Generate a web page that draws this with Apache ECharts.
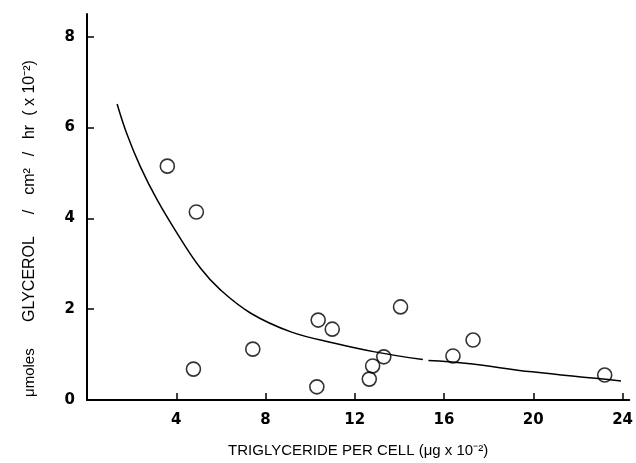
<!DOCTYPE html>
<html>
<head>
<meta charset="utf-8">
<script src="https://cdn.jsdelivr.net/npm/echarts@6/dist/echarts.min.js"></script>
<style>html,body{margin:0;padding:0;background:#fff;}#c{width:636px;height:463px;}</style>
</head>
<body>
<div id="c"></div>
<script>
// Observed data points (triglyceride per cell, glycerol release)
const pointsX = [3.6, 4.9, 4.77, 7.43, 10.36, 10.99, 10.3, 14.05, 12.8, 12.65, 13.3, 16.4, 17.3, 23.2];
const pointsY = [5.15, 4.14, 0.68, 1.12, 1.76, 1.56, 0.29, 2.05, 0.75, 0.46, 0.95, 0.97, 1.32, 0.55];
// Fitted curve (null = small break in drawn line)
const curveX = [1.35, 1.78, 2.39, 3.14, 4.04, 5.09, 5.99, 7.34, 9.14, 11.1, 12.9, 15.05, null, 15.3, 16.95, 19.95, 23.93];
const curveY = [6.52, 5.87, 5.14, 4.41, 3.67, 2.90, 2.42, 1.91, 1.50, 1.25, 1.06, 0.89, null, 0.87, 0.81, 0.62, 0.42];
const xTicks = [4, 8, 12, 16, 20, 24];
const yTicks = [0, 2, 4, 6, 8];

const scatterData = pointsX.map((x, i) => [x, pointsY[i]]);
const curveData = curveX.map((x, i) => x === null ? [null, null] : [x, curveY[i]]);

const font = 'Liberation Sans, Arial, sans-serif';
const tickFont = 'DejaVu Sans, Verdana, sans-serif';
const chart = echarts.init(document.getElementById('c'), null, {renderer: 'canvas'});
chart.setOption({
  animation: false,
  backgroundColor: '#fff',
  grid: {left: 87, right: 6, top: 14, bottom: 63, containLabel: false},
  xAxis: {
    type: 'value', min: 0, max: 24.3,
    splitLine: {show: false},
    axisLine: {lineStyle: {color: '#000', width: 2}},
    axisTick: {inside: true, length: 7, customValues: xTicks, lineStyle: {color: '#000', width: 1.5}},
    axisLabel: {customValues: xTicks, color: '#000', fontSize: 15, fontWeight: 'bold', fontFamily: tickFont, margin: 13},
    name: 'TRIGLYCERIDE PER CELL (μg x 10⁻²)',
    nameLocation: 'middle', nameGap: 43,
    nameTextStyle: {color: '#000', fontSize: 15, fontFamily: font}
  },
  yAxis: {
    type: 'value', min: 0, max: 8.5,
    splitLine: {show: false},
    axisLine: {lineStyle: {color: '#000', width: 2}},
    axisTick: {inside: true, length: 7, customValues: yTicks, lineStyle: {color: '#000', width: 1.5}},
    axisLabel: {customValues: yTicks, color: '#000', fontSize: 15, fontWeight: 'bold', fontFamily: tickFont, margin: 12},
    name: '{a|μmoles}{b|GLYCEROL}{c|/}{d|cm²}{e|/}{f|hr}{g|( x 10⁻²)}{h|}',
    nameLocation: 'middle', nameGap: 49, nameRotate: 90,
    nameTextStyle: {color: '#000', fontSize: 16, fontFamily: font,
      rich: {
        a: {width: 75, align: 'left', fontSize: 15, fontFamily: font, color: '#000'},
        b: {width: 100, align: 'left', fontSize: 16, fontFamily: font, color: '#000'},
        c: {width: 20, align: 'center', fontSize: 16, fontFamily: font, color: '#000'},
        d: {width: 41, align: 'center', fontSize: 16, fontFamily: font, color: '#000'},
        e: {width: 14, align: 'center', fontSize: 16, fontFamily: font, color: '#000'},
        f: {width: 30, align: 'center', fontSize: 16, fontFamily: font, color: '#000'},
        g: {width: 58, align: 'left', fontSize: 16, fontFamily: font, color: '#000'},
        h: {width: 42, fontSize: 16, fontFamily: font}
      }}
  },
  series: [
    {
      type: 'line', data: curveData, smooth: 0.4, showSymbol: false, connectNulls: false,
      lineStyle: {color: '#000', width: 1.5}, silent: true
    },
    {
      type: 'scatter', data: scatterData, symbol: 'circle', symbolSize: 14,
      itemStyle: {color: 'rgba(255,255,255,0)', borderColor: '#000', borderWidth: 1.6}
    }
  ]
});
</script>
</body>
</html>
